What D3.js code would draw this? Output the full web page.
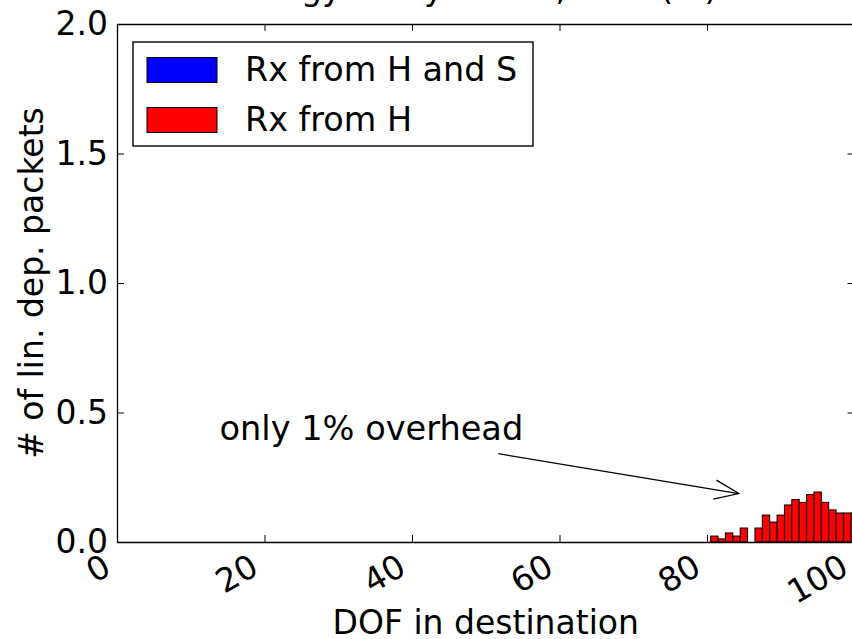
<!DOCTYPE html>
<html>
<head>
<meta charset="utf-8">
<script src="https://cdn.jsdelivr.net/npm/d3@7"></script>
<style>
  html, body { margin: 0; padding: 0; background: #fff; overflow: hidden; }
  svg { display: block; font-family: "DejaVu Sans", sans-serif; }
</style>
</head>
<body>
<div id="chart"></div>
<script>
// DOF bins that hold a bar, and the bar heights for each series
var dofBins = [81, 82, 83, 84, 85, 86, 87, 88, 89, 90, 91, 92, 93, 94, 95, 96, 97, 98, 99, 100];
var fromHandS = [0, 0, 0, 0, 0, 0, 0, 0, 0, 0, 0, 0, 0, 0, 0, 0, 0, 0, 0, 0];
var fromH = [0.023, 0.012, 0.035, 0.023, 0.054, 0, 0.054, 0.104, 0.077, 0.104,
             0.143, 0.164, 0.153, 0.183, 0.193, 0.153, 0.124, 0.112, 0.112, 0.112];

var xTicks = [0, 20, 40, 60, 80, 100];
var yTicks = [0, 0.5, 1.0, 1.5, 2.0];
var seriesNames = ["Rx from H and S", "Rx from H"];
var seriesColors = ["#0000ff", "#ff0000"];

// annotation: text spot and arrow tip, in data units
var noteText = "only 1% overhead";
var notePos = [13.9, 0.394];
var arrowFrom = [51.7, 0.341];
var arrowTo = [84.3, 0.187];

var chartWidth = 852, chartHeight = 639,
    margin = {top: 24, left: 117},
    width = 737.5,
    height = 518,
    fs = 33;

var svg = d3.select("#chart").append("svg")
    .attr("width", chartWidth)
    .attr("height", chartHeight);

var x = d3.scaleLinear().domain([0, 100]).range([0, width]);
var y = d3.scaleLinear().domain([0, 2]).range([height, 0]);

var g = svg.append("g")
    .attr("transform", "translate(" + margin.left + "," + margin.top + ")");

// title, mostly cut off by the top edge
svg.append("text")
    .attr("x", 226)
    .attr("y", 0)
    .attr("font-size", fs)
    .attr("fill", "#000")
    .text("Energy study with S, 10% (%)");

// bars
function drawBars(values, color) {
  var rows = dofBins.map(function(d, i) { return {dof: d, v: values[i]}; })
      .filter(function(d) { return d.v > 0; });
  g.selectAll(null)
    .data(rows)
    .enter().append("rect")
      .attr("x", function(d) { return x(d.dof - 0.5); })
      .attr("y", function(d) { return y(d.v); })
      .attr("width", function(d) { return x(d.dof + 0.5) - x(d.dof - 0.5); })
      .attr("height", function(d) { return y(0) - y(d.v); })
      .attr("fill", color)
      .attr("stroke", "#000")
      .attr("stroke-width", 1);
}
drawBars(fromHandS, seriesColors[0]);
drawBars(fromH, seriesColors[1]);

// axes, ticks pointing inward
var xb = g.append("g")
    .attr("transform", "translate(0," + height + ")")
    .call(d3.axisBottom(x).tickValues(xTicks).tickSize(-7).tickSizeOuter(0).tickFormat(d3.format("d")));
xb.selectAll("text")
    .attr("font-size", fs)
    .attr("font-family", "DejaVu Sans")
    .attr("fill", "#000")
    .attr("text-anchor", "end")
    .attr("dy", null)
    .attr("y", null)
    .attr("transform", "translate(-4.5,31) rotate(-30)");

g.append("g")
    .call(d3.axisTop(x).tickValues(xTicks).tickSize(-7).tickSizeOuter(0).tickFormat(""));

var yl = g.append("g")
    .call(d3.axisLeft(y).tickValues(yTicks).tickSize(-7).tickSizeOuter(0).tickPadding(9).tickFormat(d3.format(".1f")));
yl.selectAll("text")
    .attr("font-size", fs)
    .attr("font-family", "DejaVu Sans")
    .attr("fill", "#000");

g.append("g")
    .attr("transform", "translate(" + width + ",0)")
    .call(d3.axisRight(y).tickValues(yTicks).tickSize(-7).tickSizeOuter(0).tickFormat(""));

g.selectAll(".domain").attr("stroke", "#000").attr("stroke-width", 1.3);
g.selectAll(".tick line").attr("stroke", "#000").attr("stroke-width", 1);

// axis labels
svg.append("text")
    .attr("x", margin.left + width / 2)
    .attr("y", 634)
    .attr("text-anchor", "middle")
    .attr("font-size", fs)
    .text("DOF in destination");

svg.append("text")
    .attr("transform", "translate(43," + (margin.top + height / 2) + ") rotate(-90)")
    .attr("text-anchor", "middle")
    .attr("font-size", fs)
    .text("# of lin. dep. packets");

// annotation
g.append("text")
    .attr("x", x(notePos[0]))
    .attr("y", y(notePos[1]))
    .attr("font-size", 33.6)
    .text(noteText);

var ax0 = x(arrowFrom[0]), ay0 = y(arrowFrom[1]),
    ax1 = x(arrowTo[0]), ay1 = y(arrowTo[1]);
var ang = Math.atan2(ay1 - ay0, ax1 - ax0), hl = 26, hw = 0.38;
g.append("line")
    .attr("x1", ax0).attr("y1", ay0)
    .attr("x2", ax1).attr("y2", ay1)
    .attr("stroke", "#000").attr("stroke-width", 1.3);
g.append("path")
    .attr("d", "M" + (ax1 - hl * Math.cos(ang - hw)) + "," + (ay1 - hl * Math.sin(ang - hw)) +
               "L" + ax1 + "," + ay1 +
               "L" + (ax1 - hl * Math.cos(ang + hw)) + "," + (ay1 - hl * Math.sin(ang + hw)))
    .attr("fill", "none").attr("stroke", "#000").attr("stroke-width", 1.3);

// legend
var legend = svg.append("g").attr("transform", "translate(133,42)");
legend.append("rect")
    .attr("width", 400).attr("height", 104)
    .attr("fill", "#fff").attr("stroke", "#000").attr("stroke-width", 1.4);
seriesNames.forEach(function(name, i) {
  legend.append("rect")
      .attr("x", 14).attr("y", 15.5 + i * 50)
      .attr("width", 70).attr("height", 25)
      .attr("fill", seriesColors[i]).attr("stroke", "#000").attr("stroke-width", 1);
  legend.append("text")
      .attr("x", 112).attr("y", 39 + i * 50)
      .attr("font-size", 33.4)
      .text(name);
});
</script>
</body>
</html>
